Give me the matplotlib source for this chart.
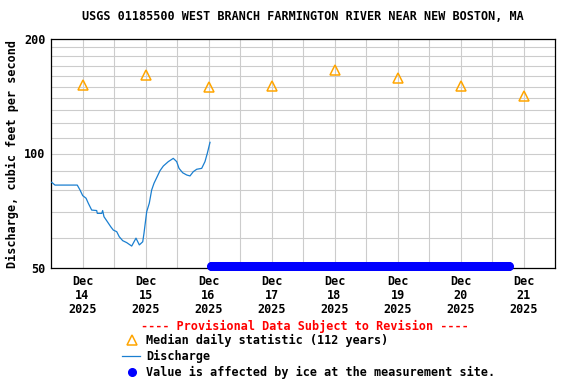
import numpy as np
import matplotlib as mpl
import matplotlib.pyplot as plt
from matplotlib.lines import Line2D
from matplotlib.ticker import FixedLocator, NullFormatter

mpl.rcParams['font.family'] = 'DejaVu Sans Mono'
mpl.rcParams['font.weight'] = 'bold'
mpl.rcParams['axes.labelweight'] = 'bold'
mpl.rcParams['axes.titleweight'] = 'bold'
mpl.rcParams['font.size'] = 8.5

# x is days since Dec 14 2025 00:00
day_labels = ['Dec\n14\n2025', 'Dec\n15\n2025', 'Dec\n16\n2025', 'Dec\n17\n2025',
              'Dec\n18\n2025', 'Dec\n19\n2025', 'Dec\n20\n2025', 'Dec\n21\n2025']
median_x = [0.5, 1.5, 2.5, 3.5, 4.5, 5.5, 6.5, 7.5]
median_q = [151.6, 160.8, 149.4, 150.3, 166.0, 157.6, 150.3, 142.0]

flow_t = [0.011, 0.063, 0.417, 0.460, 0.503, 0.556, 0.592, 0.646, 0.725, 0.735,
          0.805, 0.820, 0.841, 0.894, 0.948, 0.989, 1.043, 1.084, 1.138, 1.202,
          1.281, 1.349, 1.402, 1.456, 1.476, 1.519, 1.560, 1.598, 1.635, 1.678,
          1.730, 1.783, 1.862, 1.941, 1.995, 2.032, 2.090, 2.154, 2.206, 2.259,
          2.313, 2.392, 2.444, 2.481, 2.524]
flow_q = [84.0, 82.6, 82.6, 80.2, 77.5, 76.3, 74.0, 71.0, 70.8, 69.6,
          69.6, 70.8, 68.2, 66.2, 64.2, 62.9, 62.3, 60.4, 59.0, 58.3,
          57.1, 59.9, 57.5, 58.6, 61.7, 70.3, 74.0, 80.2, 83.5, 86.4,
          90.1, 92.7, 95.2, 97.1, 95.2, 91.4, 89.0, 87.8, 87.3, 89.6,
          90.9, 91.4, 95.2, 100.1, 107.0]

ice_start = 2.54
ice_end = 7.27
ice_level = 50.5

fig = plt.figure(figsize=(5.76, 3.84), dpi=100)
ax = fig.add_axes([51/576, 1 - 268/384, 504/576, 229/384])

ax.set_yscale('log')
ax.set_ylim(50, 200)
ax.set_xlim(0, 8)

ax.yaxis.set_major_locator(FixedLocator([50, 100, 200]))
ax.yaxis.set_major_formatter(mpl.ticker.FixedFormatter(['50', '100', '200']))
ax.yaxis.set_minor_locator(FixedLocator([60, 70, 80, 90, 110, 120, 130, 140,
                                         150, 160, 170, 180, 190]))
ax.yaxis.set_minor_formatter(NullFormatter())
ax.set_xticks(median_x)
ax.set_xticklabels(day_labels, linespacing=1.1)
ax.set_xticks(range(1, 8), minor=True)

ax.grid(True, which='both', color='#cccccc', linewidth=0.8)
ax.tick_params(which='both', length=0)
ax.tick_params(axis='y', pad=4)
ax.tick_params(axis='x', pad=5)
for s in ax.spines.values():
    s.set_linewidth(0.9)

ax.plot(flow_t, flow_q, color='#1a7fd0', linewidth=0.9, zorder=3)
ax.plot(median_x, median_q, linestyle='none', marker='^', markersize=7.5,
        markerfacecolor='none', markeredgecolor='#ffa500', markeredgewidth=1.1,
        zorder=4)
ice_t = np.arange(ice_start, ice_end, 1/96)
ax.plot(ice_t, np.full(len(ice_t), ice_level), linestyle='none', marker='o',
        markersize=5.5, color='#0000ff', clip_on=False, zorder=5)

ax.set_ylabel('Discharge, cubic feet per second', labelpad=4)
ax.set_title('USGS 01185500 WEST BRANCH FARMINGTON RIVER NEAR NEW BOSTON, MA',
             fontsize=8.5, pad=14)

# legend drawn below the axes
fig.text(305/576, 1 - 326/384, '---- Provisional Data Subject to Revision ----',
         color='red', ha='center', va='center')
fig.add_artist(Line2D([132/576], [1 - 340/384], marker='^', markersize=7.5,
                      markerfacecolor='none', markeredgecolor='#ffa500',
                      markeredgewidth=1.1, linestyle='none'))
fig.add_artist(Line2D([122/576, 140/576], [1 - 356/384, 1 - 356/384],
                      color='#1a7fd0', linewidth=0.9))
fig.add_artist(Line2D([132/576], [1 - 372/384], marker='o', markersize=5.5,
                      color='#0000ff', linestyle='none'))
fig.text(146/576, 1 - 340/384, 'Median daily statistic (112 years)', va='center')
fig.text(146/576, 1 - 356/384, 'Discharge', va='center')
fig.text(146/576, 1 - 372/384, 'Value is affected by ice at the measurement site.',
         va='center')

fig.savefig('out.png', dpi=100)
